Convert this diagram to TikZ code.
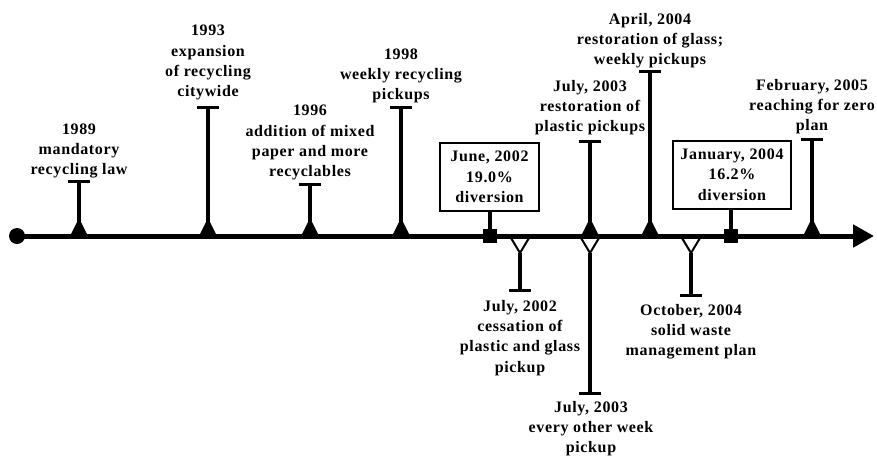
\documentclass[tikz,border=0pt]{standalone}
\usepackage{fontspec}
\setmainfont{Liberation Serif}[LetterSpace=4]
\usetikzlibrary{arrows.meta}
\newcommand\lastline{\rule[-5pt]{0pt}{1pt}}
\newcommand\firstline{\rule{0pt}{11pt}}
\tikzset{
  lbl/.style={font=\fontsize{16}{20.3}\selectfont\bfseries, align=center, inner sep=0pt},
  above lbl/.style={lbl, anchor=south},
  below lbl/.style={lbl, anchor=north},
  axisline/.style={line width=5pt, -{Triangle[length=21pt,width=22pt]}},
  stemline/.style={line width=4.5pt},
  barline/.style={line width=3pt},
  upmark/.style={fill=black},
  downmark/.style={line width=2pt, line join=miter},
  box/.style={draw, line width=2pt, inner sep=0pt, minimum height=68pt, font=\fontsize{16}{20.3}\selectfont\bfseries, align=center},
  sq/.style={fill=black, minimum size=14pt, inner sep=0pt},
}
\newcommand\tbar[1]{\draw[barline] ([xshift=-11pt]#1) -- ([xshift=11pt]#1);}
\newcommand\upevent[3]{%
  \coordinate (#1a) at (#2,236);
  \coordinate (#1t) at (#2,#3);
  \draw[stemline] (#1a) -- (#1t);
  \tbar{#1t}
  \fill[upmark] ([xshift=-8.5pt,yshift=1pt]#1a) -- ([xshift=8.5pt,yshift=1pt]#1a) -- ([yshift=18pt]#1a) -- cycle;}
\newcommand\downevent[3]{%
  \coordinate (#1a) at (#2,236);
  \coordinate (#1v) at (#2,253);
  \coordinate (#1t) at (#2,#3);
  \draw[stemline] (#1v) -- (#1t);
  \tbar{#1t}
  \draw[downmark] ([xshift=-9pt,yshift=-2pt]#1a) -- (#1v) -- ([xshift=9pt,yshift=-2pt]#1a);}
\begin{document}
\begin{tikzpicture}[x=1pt,y=-1pt]
\useasboundingbox (0,0) rectangle (877,456);
% axis
\node[circle, fill=black, minimum size=16pt, inner sep=0pt] (start) at (17,236) {};
\coordinate (end) at (874,236);
\draw[axisline] (start.center) -- (end);
% up events
\upevent{a}{79}{181}
\upevent{b}{208}{107}
\upevent{c}{310}{184}
\upevent{d}{401}{107}
\upevent{e}{590}{141}
\upevent{f}{650}{71}
\upevent{g}{812}{139}
% down events
\downevent{h}{520}{290}
\downevent{i}{590}{393}
\downevent{j}{691}{295}
% labels above
\node[above lbl] (la) at (79,180) {1989\\mandatory\\recycling law\lastline};
\node[above lbl] (lb) at (208,102) {1993\\expansion\\of recycling\\citywide\lastline};
\node[above lbl] (lc) at (310,182) {1996\\addition of mixed\\paper and more\\recyclables\lastline};
\node[above lbl] (ld) at (401,105) {1998\\weekly recycling\\pickups\lastline};
\node[above lbl] (le) at (590,137) {July, 2003\\restoration of\\plastic pickups\lastline};
\node[above lbl] (lf) at (650,70) {April, 2004\\restoration of glass;\\weekly pickups\lastline};
\node[above lbl] (lg) at (812,136) {February, 2005\\reaching for zero\\plan\lastline};
% labels below
\node[below lbl] (lh) at (520,300) {\firstline July, 2002\\cessation of\\plastic and glass\\pickup};
\node[below lbl] (li) at (591,401) {\firstline July, 2003\\every other week\\pickup};
\node[below lbl] (lj) at (691,304) {\firstline October, 2004\\solid waste\\management plan};
% boxes
\node[box, minimum width=99pt] (jun) at (489.5,177) {June, 2002\\19.0\%\\diversion};
\node[sq] (junsq) at (490,236) {};
\draw[stemline] (jun.south -| junsq) -- (junsq);
\node[box, minimum width=118pt] (jan) at (732,174.5) {January, 2004\\16.2\%\\diversion};
\node[sq] (jansq) at (731,236) {};
\draw[stemline] (jan.south -| jansq) -- (jansq);
\end{tikzpicture}
\end{document}
